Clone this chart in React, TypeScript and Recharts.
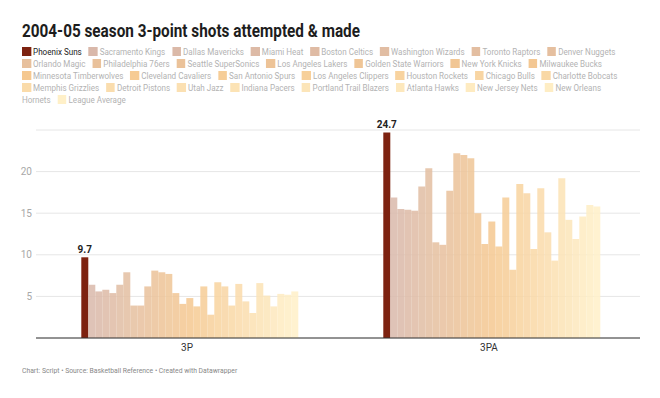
import { BarChart, Bar, XAxis, YAxis, CartesianGrid, LabelList } from "recharts";

const teams = [
  "Phoenix Suns",
  "Sacramento Kings",
  "Dallas Mavericks",
  "Miami Heat",
  "Boston Celtics",
  "Washington Wizards",
  "Toronto Raptors",
  "Denver Nuggets",
  "Orlando Magic",
  "Philadelphia 76ers",
  "Seattle SuperSonics",
  "Los Angeles Lakers",
  "Golden State Warriors",
  "New York Knicks",
  "Milwaukee Bucks",
  "Minnesota Timberwolves",
  "Cleveland Cavaliers",
  "San Antonio Spurs",
  "Los Angeles Clippers",
  "Houston Rockets",
  "Chicago Bulls",
  "Charlotte Bobcats",
  "Memphis Grizzlies",
  "Detroit Pistons",
  "Utah Jazz",
  "Indiana Pacers",
  "Portland Trail Blazers",
  "Atlanta Hawks",
  "New Jersey Nets",
  "New Orleans Hornets",
  "League Average",
];

// 3-pointers made per game
const made = [
  9.7, 6.4, 5.6, 5.8, 5.4, 6.4, 7.9, 3.9, 3.9, 6.2, 8.1, 7.9, 7.7, 5.4, 4.1, 4.8,
  3.8, 6.2, 2.8, 6.7, 6.2, 3.9, 6.5, 4.4, 3.0, 6.6, 5.1, 3.8, 5.3, 5.2, 5.6,
];

// 3-pointers attempted per game
const attempted = [
  24.7, 16.9, 15.5, 15.4, 15.3, 18.2, 20.4, 11.5, 11.2, 17.7, 22.2, 22.0, 21.6,
  15.0, 11.3, 14.0, 11.0, 16.9, 8.2, 18.5, 17.4, 10.7, 18.0, 12.7, 9.3, 19.2,
  14.2, 11.9, 14.6, 16.0, 15.8,
];

const stats = ["3P", "3PA"];

const rows = stats.map((stat, i) => {
  const row: Record<string, string | number> = { stat };
  teams.forEach((team, j) => {
    row[team] = i === 0 ? made[j] : attempted[j];
  });
  return row;
});

function hexToRgb(hex: string) {
  const n = parseInt(hex.slice(1), 16);
  return [(n >> 16) & 255, (n >> 8) & 255, n & 255];
}

function mix(a: string, b: string, t: number) {
  const ca = hexToRgb(a);
  const cb = hexToRgb(b);
  const c = ca.map((v, k) => Math.round(v + (cb[k] - v) * t));
  return `rgb(${c[0]},${c[1]},${c[2]})`;
}

function teamColor(i: number) {
  if (i === 0) return "#7d2210";
  if (i <= 15) return mix("#d9b8aa", "#f5c890", (i - 1) / 14);
  return mix("#f5c890", "#fff0c8", (i - 15) / 15);
}

function LegendItem({ team, i }: { team: string; i: number }) {
  const [first, ...rest] = team.split(" ");
  return (
    <span style={{ marginRight: 8, color: i === 0 ? "#222" : undefined }}>
      <span style={{ whiteSpace: "nowrap" }}>
        <span
          style={{
            display: "inline-block",
            width: 10.5,
            height: 9,
            marginRight: 2.5,
            verticalAlign: "-1px",
            background: teamColor(i),
          }}
        />
        {first}
      </span>
      {rest.length > 0 ? " " + rest.join(" ") : ""}
    </span>
  );
}

export default function App() {
  return (
    <div
      style={{
        position: "absolute",
        top: 0,
        left: 0,
        width: 660,
        height: 398,
        background: "#fff",
        fontFamily: "Roboto, sans-serif",
        overflow: "hidden",
      }}
    >
      <div
        style={{
          position: "absolute",
          top: 20,
          left: 22,
          width: 460,
          fontSize: 18,
          lineHeight: "22px",
          fontWeight: 700,
          color: "#1d1d1d",
          transform: "scaleX(0.85)",
          transformOrigin: "0 0",
          whiteSpace: "nowrap",
        }}
      >
        2004-05 season 3-point shots attempted &amp; made
      </div>

      <div
        style={{
          position: "absolute",
          top: 46,
          left: 22,
          width: 714,
          fontSize: 9.5,
          lineHeight: "12px",
          color: "#b3b3b3",
          transform: "scaleX(0.85)",
          transformOrigin: "0 0",
        }}
      >
        {teams.map((team, i) => (
          <LegendItem key={team} team={team} i={i} />
        ))}
      </div>

      <div style={{ position: "absolute", top: 110, left: 0 }}>
        <BarChart
          width={660}
          height={260}
          data={rows}
          margin={{ top: 20, right: 20, left: 6, bottom: 0 }}
          barCategoryGap="15%"
          barGap={0}
        >
          <CartesianGrid vertical={false} stroke="#e6e6e6" />
          <XAxis
            dataKey="stat"
            height={32}
            tickLine={false}
            tickSize={0}
            tickMargin={6}
            axisLine={{ stroke: "#333" }}
            tick={{ fontSize: 10, fill: "#333" }}
          />
          <YAxis
            width={30}
            domain={[0, 25]}
            ticks={[5, 10, 15, 20]}
            axisLine={false}
            tickLine={false}
            tickSize={0}
            tickMargin={4}
            tick={{ fontSize: 10, fill: "#a8a8a8" }}
          />
          {teams.map((team, i) => (
            <Bar
              key={team}
              dataKey={team}
              fill={teamColor(i)}
              fillOpacity={i === 0 ? 1 : 0.85}
              isAnimationActive={false}
            >
              {i === 0 && (
                <LabelList
                  dataKey={team}
                  position="top"
                  offset={4}
                  style={{ fontSize: 10, fontWeight: 700, fill: "#222" }}
                />
              )}
            </Bar>
          ))}
        </BarChart>
      </div>

      <div
        style={{
          position: "absolute",
          top: 366,
          left: 22,
          width: 400,
          fontSize: 8,
          lineHeight: "10px",
          color: "#888",
          transform: "scaleX(0.85)",
          transformOrigin: "0 0",
          whiteSpace: "nowrap",
        }}
      >
        Chart: Script • Source: Basketball Reference • Created with Datawrapper
      </div>
    </div>
  );
}
